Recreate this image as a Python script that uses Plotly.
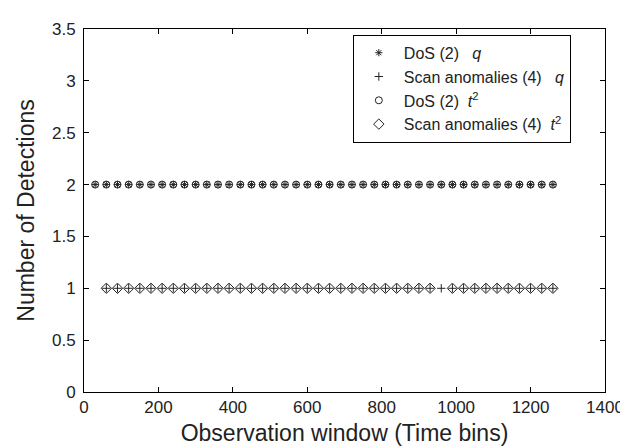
import plotly.graph_objects as go

# Data
dos_q_x = list(range(30, 1261, 30))
dos_q_y = [2] * len(dos_q_x)
scan_q_x = list(range(60, 1261, 30))
scan_q_y = [1] * len(scan_q_x)
dos_t2_x = list(range(30, 1261, 30))
dos_t2_y = [2] * len(dos_t2_x)
scan_t2_x = [x for x in range(60, 1261, 30) if x != 960]
scan_t2_y = [1] * len(scan_t2_x)

x_ticks = [0, 200, 400, 600, 800, 1000, 1200, 1400]
y_ticks = [0, 0.5, 1, 1.5, 2, 2.5, 3, 3.5]
y_tick_text = ["0", "0.5", "1", "1.5", "2", "2.5", "3", "3.5"]

ink = "#222222"
fig = go.Figure()
fig.add_trace(go.Scatter(x=dos_q_x, y=dos_q_y, mode="markers",
                         name="DoS (2) &nbsp; <i>q</i>",
                         marker=dict(symbol="asterisk-open", size=6, color=ink,
                                     line=dict(color=ink, width=1))))
fig.add_trace(go.Scatter(x=scan_q_x, y=scan_q_y, mode="markers",
                         name="Scan anomalies (4) &nbsp; <i>q</i>",
                         marker=dict(symbol="cross-thin-open", size=6, color=ink,
                                     line=dict(color=ink, width=1))))
fig.add_trace(go.Scatter(x=dos_t2_x, y=dos_t2_y, mode="markers",
                         name="DoS (2) &nbsp;<i>t</i><sup>2</sup>",
                         marker=dict(symbol="circle-open", size=7, color=ink,
                                     line=dict(color=ink, width=1))))
fig.add_trace(go.Scatter(x=scan_t2_x, y=scan_t2_y, mode="markers",
                         name="Scan anomalies (4) &nbsp;<i>t</i><sup>2</sup>",
                         marker=dict(symbol="diamond-open", size=8, color=ink,
                                     line=dict(color=ink, width=1))))

axis_common = dict(showline=True, linecolor="black", linewidth=1, mirror="ticks",
                   ticks="inside", ticklen=5, tickcolor="black", showgrid=False,
                   zeroline=False, tickfont=dict(size=17, color=ink))

fig.update_xaxes(range=[0, 1400], tickvals=x_ticks,
                 title=dict(text="Observation window (Time bins)", font=dict(size=23, color=ink),
                            standoff=8),
                 **axis_common)
fig.update_yaxes(range=[0, 3.5], tickvals=y_ticks, ticktext=y_tick_text,
                 ticklabelstandoff=4,
                 title=dict(text="Number of Detections", font=dict(size=23, color=ink),
                            standoff=10),
                 **axis_common)

fig.update_layout(
    width=628, height=446,
    margin=dict(l=76, r=21, t=16, b=61),
    paper_bgcolor="white", plot_bgcolor="white",
    font=dict(family="Liberation Sans, Arial, sans-serif", color=ink),
    legend=dict(x=0.516, y=0.984, xanchor="left", yanchor="top",
                bgcolor="white", bordercolor="black", borderwidth=1,
                font=dict(size=16, color=ink), tracegroupgap=0, itemwidth=40),
    showlegend=True,
)

fig.write_html("out.html")
